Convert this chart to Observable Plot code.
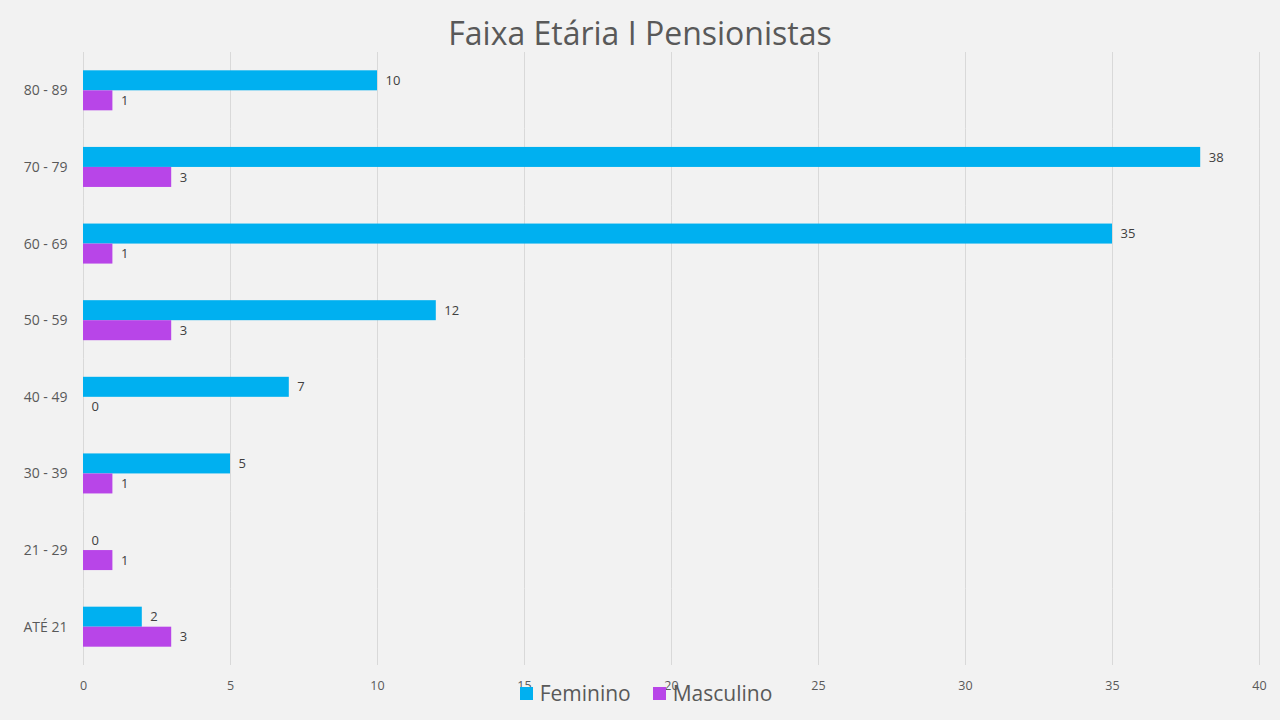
<!DOCTYPE html>
<html>
<head>
<meta charset="utf-8">
<script src="https://cdn.jsdelivr.net/npm/d3@7"></script>
<script src="https://cdn.jsdelivr.net/npm/@observablehq/plot@0.6"></script>
<style>
  html, body { margin: 0; padding: 0; background: #f2f2f2; }
  #wrap { position: relative; width: 1280px; height: 720px; background: #f2f2f2; font-family: "Open Sans", sans-serif; overflow: hidden; }
  #title { position: absolute; top: 11px; left: 0; width: 1280px; text-align: center; font-size: 32px; color: #595959; }
  #chart { position: absolute; left: 0; top: 0; }
  #legend { position: absolute; top: 679px; left: 6px; width: 1280px; display: flex; justify-content: center; gap: 22px; font-size: 21px; color: #595959; }
  .item { display: flex; align-items: center; gap: 7px; }
  .sw { width: 13px; height: 13px; display: inline-block; }
</style>
</head>
<body>
<div id="wrap">
  <div id="chart"></div>
  <div id="title">Faixa Etária I Pensionistas</div>
  <div id="legend"></div>
</div>
<script>
const categories = ["80 - 89", "70 - 79", "60 - 69", "50 - 59", "40 - 49", "30 - 39", "21 - 29", "ATÉ 21"];
const series = ["Feminino", "Masculino"];
const feminino = [10, 38, 35, 12, 7, 5, 0, 2];
const masculino = [1, 3, 1, 3, 0, 1, 1, 3];
const colors = ["#00b0f0", "#b845e8"];
const xTicks = [0, 5, 10, 15, 20, 25, 30, 35, 40];

const data = [];
categories.forEach((c, i) => {
  data.push({cat: c, serie: series[0], value: feminino[i]});
  data.push({cat: c, serie: series[1], value: masculino[i]});
});

const chart = Plot.plot({
  width: 1280,
  height: 720,
  marginLeft: 83,
  marginRight: 21,
  marginTop: 52,
  marginBottom: 55,
  style: {background: "transparent", fontFamily: "Open Sans, sans-serif"},
  x: {domain: [0, 40], ticks: xTicks, label: null},
  fy: {domain: categories, padding: 0, round: false, label: null},
  y: {domain: series, paddingInner: 0, paddingOuter: 0.915, round: false, axis: null},
  color: {domain: series, range: colors},
  marks: [
    Plot.gridX(xTicks, {stroke: "#d9d9d9", strokeOpacity: 1, strokeWidth: 1}),
    Plot.axisX({ticks: xTicks, tickSize: 0, tickPadding: 16, fontSize: 12.5, fill: "#595959", label: null}),
    Plot.axisFy({anchor: "left", tickSize: 0, tickPadding: 16, fontSize: 14, fill: "#595959", label: null}),
    Plot.barX(data, {fy: "cat", y: "serie", x: "value", fill: "serie"}),
    Plot.text(data, {fy: "cat", y: "serie", x: "value", text: d => String(d.value), textAnchor: "start", dx: 8, fontSize: 13, fill: "#404040"})
  ]
});
document.getElementById("chart").appendChild(chart);

const legend = document.getElementById("legend");
series.forEach((s, i) => {
  const it = document.createElement("div");
  it.className = "item";
  const sw = document.createElement("span");
  sw.className = "sw";
  sw.style.background = colors[i];
  const t = document.createElement("span");
  t.textContent = s;
  it.appendChild(sw); it.appendChild(t);
  legend.appendChild(it);
});
</script>
</body>
</html>
